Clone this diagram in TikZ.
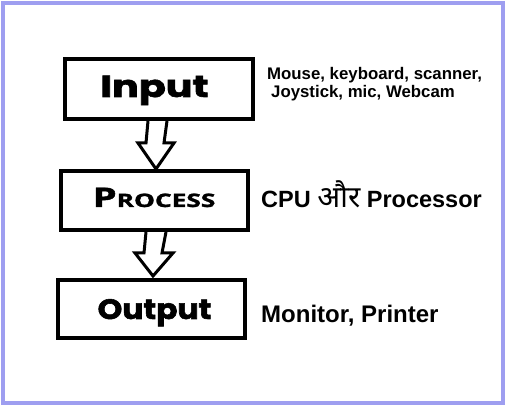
\documentclass[tikz,border=0pt]{standalone}
\usepackage{fontspec}
\setmainfont{Liberation Sans}
\newfontfamily\popfont{Poppins}[BoldFeatures={FakeBold=2}]
\newfontfamily\procfont{Open Sans}[BoldFeatures={FakeBold=1.5}]
\newfontfamily\devfont[Script=Devanagari]{Noto Sans}
\usetikzlibrary{calc}
\definecolor{framecol}{RGB}{158,158,240}
\tikzset{
  boxnode/.style={draw=black, line width=4pt, minimum width=188pt, minimum height=60pt, inner sep=0pt, fill=white},
  blockarrow/.style={draw=black, line width=3pt, miter limit=10, line join=miter},
  sidetext/.style={anchor=base west, inner sep=0pt, font=\bfseries},
  boxtext/.style={anchor=base, inner sep=0pt}
}
\begin{document}
\begin{tikzpicture}[x=1pt,y=1pt]
\useasboundingbox (0,0) rectangle (506,406);
\fill[white] (0,0) rectangle (506,406);
\draw[framecol, line width=4.5pt] (3,3) rectangle (503,403);

\node[boxnode] (in) at (159,317) {};
\node[boxnode, minimum width=187pt, minimum height=59pt] (pr) at (154.5,205.5) {};
\node[boxnode, minimum width=187pt, minimum height=58pt] (out) at (151.5,97) {};

\node[boxtext] (intext) at (154.5,309) {\scalebox{1.3}[1]{\popfont\bfseries\fontsize{30.5}{31}\selectfont Input}};
\node[boxtext] (prtext) at (154,199) {\scalebox{1.42}[1]{\procfont\bfseries{\fontsize{27}{27}\selectfont P}{\fontsize{18.5}{19}\selectfont ROCESS}}};
\node[boxtext] (outtext) at (154.5,87) {\scalebox{1.12}[1]{\popfont\bfseries\fontsize{28}{28}\selectfont Output}};

\draw[blockarrow] ($(in.south)+(-11,0)$) -- ($(in.south)+(-13,-22)$) -- ($(in.south)+(-21,-22)$) -- ($(in.south)+(-3,-48)$) -- ($(in.south)+(15,-22)$) -- ($(in.south)+(5,-22)$) -- ($(in.south)+(8,0)$);
\draw[blockarrow] ($(pr.south)+(-8.5,0)$) -- ($(pr.south)+(-10.5,-21)$) -- ($(pr.south)+(-19.5,-21)$) -- ($(pr.south)+(-1.5,-44)$) -- ($(pr.south)+(18.5,-21)$) -- ($(pr.south)+(7.5,-21)$) -- ($(pr.south)+(11.5,0)$);

\node[sidetext, font=\bfseries\fontsize{16.8}{17}\selectfont] (inl1) at (267,326) {Mouse, keyboard, scanner,};
\node[sidetext, font=\bfseries\fontsize{16.8}{17}\selectfont] (inl2) at (271,308) {Joystick, mic, Webcam};
\node[sidetext, font=\bfseries\fontsize{23.5}{24}\selectfont] (prl) at (261,198) {CPU {\devfont\fontsize{30}{30}\selectfont और} Processor};
\node[sidetext, font=\bfseries\fontsize{24}{24}\selectfont] (outl) at (261,83) {Monitor, Printer};
\end{tikzpicture}
\end{document}
